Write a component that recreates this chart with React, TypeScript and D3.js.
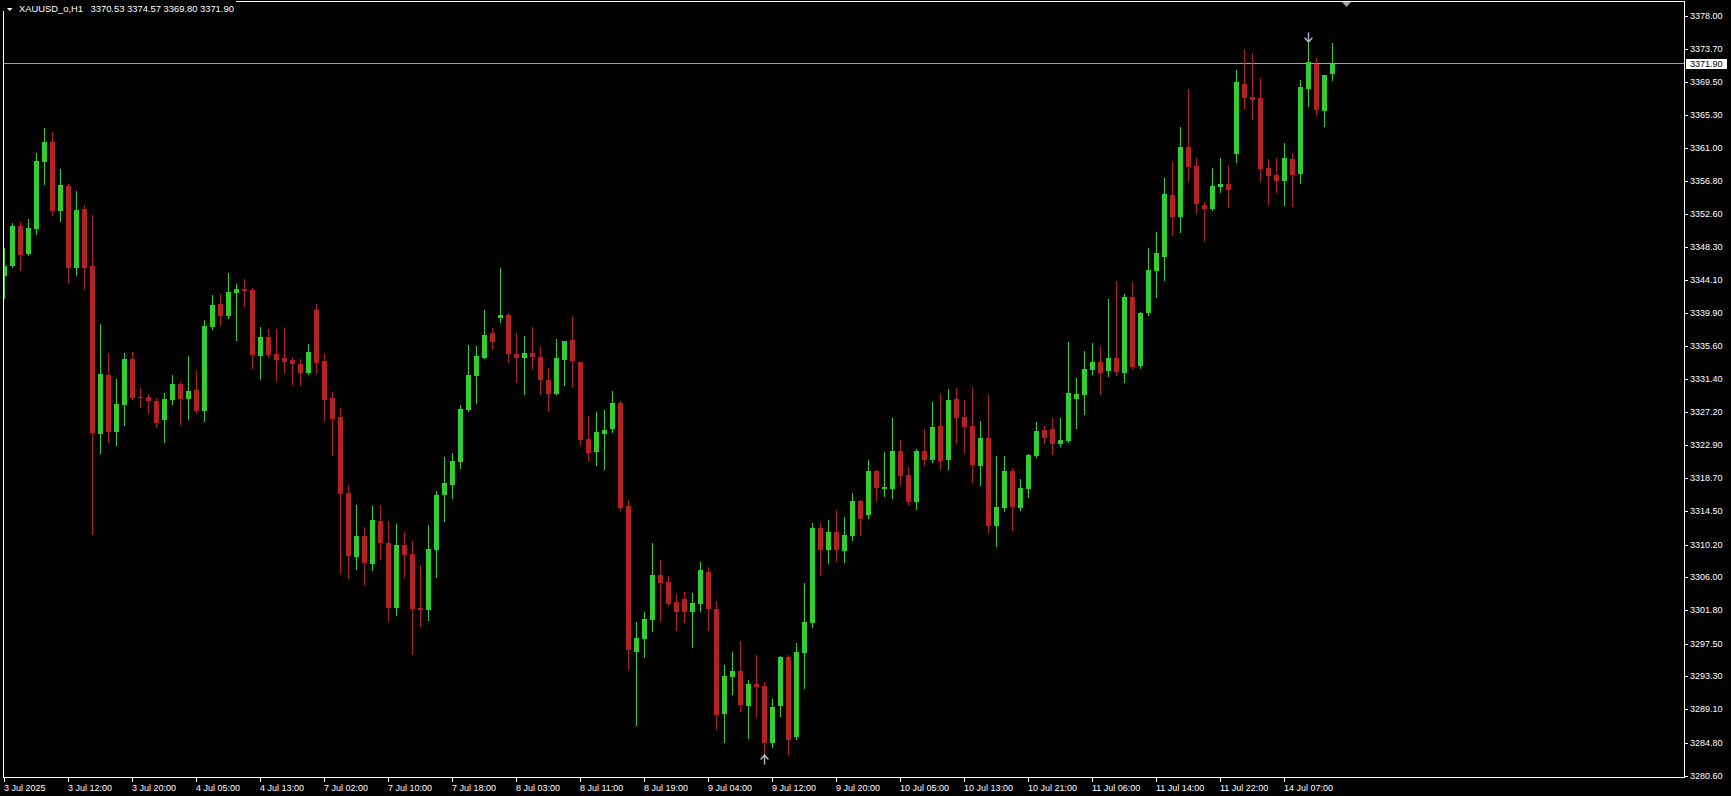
import React, { useEffect } from 'react';
import * as d3 from 'd3';

// ---------- DATA ----------
const symbolTitle = 'XAUUSD_o,H1';
const headerOHLC = ['3370.53', '3374.57', '3369.80', '3371.90'];

const opens = [
  3344.72, 3346.00, 3351.08, 3347.54, 3350.74, 3359.33, 3361.85, 3353.05, 3356.21, 3345.74,
  3353.26, 3345.96, 3324.47, 3331.99, 3324.73, 3328.19, 3334.04, 3329.21, 3329.17, 3328.65,
  3326.26, 3328.83, 3330.83, 3328.95, 3330.07, 3327.42, 3338.18, 3341.09, 3339.59, 3342.54,
  3343.01, 3342.88, 3334.47, 3336.86, 3334.68, 3334.17, 3333.91, 3333.40, 3332.29, 3340.32,
  3333.78, 3329.04, 3326.61, 3316.87, 3308.71, 3311.36, 3307.81, 3313.28, 3310.46, 3302.17,
  3310.20, 3309.05, 3302.13, 3301.92, 3309.61, 3316.65, 3317.94, 3320.88, 3327.55, 3331.91,
  3334.21, 3337.37, 3339.34, 3339.68, 3334.68, 3334.21, 3334.81, 3334.30, 3331.35, 3329.60,
  3333.96, 3336.48, 3333.66, 3323.79, 3322.16, 3324.47, 3325.11, 3328.40, 3315.20, 3296.53,
  3298.20, 3300.63, 3306.36, 3305.46, 3302.90, 3303.28, 3301.66, 3302.68, 3306.74, 3302.00,
  3288.59, 3293.33, 3294.05, 3289.61, 3292.39, 3292.13, 3284.87, 3289.61, 3295.85, 3285.64,
  3296.40, 3300.25, 3312.38, 3309.60, 3311.87, 3309.48, 3311.40, 3315.84, 3314.09, 3319.69,
  3317.42, 3317.43, 3322.25, 3319.18, 3315.76, 3322.25, 3321.14, 3325.46, 3321.14, 3328.92,
  3326.61, 3325.46, 3320.37, 3323.92, 3312.69, 3314.99, 3319.69, 3314.99, 3317.43, 3321.66,
  3324.95, 3325.07, 3323.19, 3323.58, 3328.96, 3329.47, 3332.68, 3333.66, 3332.55, 3334.17,
  3332.29, 3341.99, 3333.19, 3339.98, 3345.36, 3347.16, 3355.06, 3352.28, 3361.21, 3358.78,
  3353.78, 3353.31, 3356.13, 3356.47, 3360.36, 3369.29, 3367.62, 3367.49, 3358.52, 3357.62,
  3356.90, 3359.67, 3357.79, 3368.69, 3371.85, 3365.87, 3370.53,
];
const highs = [
  3348.22, 3351.43, 3351.55, 3351.98, 3360.44, 3363.64, 3363.13, 3358.35, 3356.47, 3355.57,
  3353.78, 3352.45, 3338.52, 3334.81, 3331.48, 3334.81, 3334.94, 3330.32, 3329.55, 3329.04,
  3329.68, 3331.99, 3331.09, 3334.42, 3332.50, 3339.04, 3342.24, 3342.37, 3345.06, 3343.65,
  3344.29, 3343.14, 3338.14, 3337.88, 3337.88, 3338.01, 3334.29, 3334.04, 3335.96, 3341.09,
  3334.68, 3329.81, 3327.76, 3317.89, 3315.33, 3312.51, 3315.20, 3315.33, 3313.28, 3312.89,
  3311.87, 3310.72, 3307.64, 3312.77, 3317.12, 3321.48, 3321.99, 3328.15, 3335.84, 3335.71,
  3340.32, 3338.01, 3345.70, 3339.94, 3337.37, 3336.99, 3338.14, 3335.58, 3332.89, 3336.60,
  3336.35, 3339.55, 3333.66, 3326.74, 3327.25, 3327.50, 3329.94, 3328.66, 3315.97, 3300.33,
  3301.62, 3310.46, 3308.28, 3306.23, 3303.92, 3304.18, 3304.05, 3308.02, 3307.38, 3303.03,
  3294.82, 3296.49, 3297.90, 3292.90, 3296.10, 3292.64, 3290.47, 3295.98, 3296.10, 3297.64,
  3305.33, 3313.02, 3313.02, 3313.41, 3314.69, 3313.79, 3316.87, 3315.97, 3321.10, 3319.86,
  3322.12, 3326.48, 3323.66, 3320.20, 3322.51, 3325.07, 3328.53, 3329.56, 3330.20, 3330.33,
  3328.79, 3330.46, 3326.10, 3329.43, 3321.61, 3321.61, 3320.08, 3318.67, 3321.87, 3325.97,
  3325.46, 3326.48, 3326.48, 3336.22, 3331.61, 3335.07, 3336.10, 3335.58, 3341.73, 3344.04,
  3342.38, 3343.91, 3340.06, 3348.27, 3350.32, 3357.24, 3359.29, 3363.77, 3368.64, 3359.80,
  3354.16, 3358.52, 3359.80, 3358.90, 3371.08, 3373.77, 3373.26, 3370.05, 3359.67, 3359.80,
  3361.72, 3360.44, 3369.80, 3374.92, 3372.62, 3370.44, 3374.57,
];
const lows = [
  3341.90, 3345.79, 3345.49, 3347.37, 3350.10, 3356.51, 3352.54, 3351.77, 3343.82, 3344.85,
  3343.05, 3311.65, 3322.03, 3323.44, 3323.06, 3325.62, 3328.91, 3327.93, 3327.16, 3325.37,
  3323.44, 3328.31, 3325.75, 3326.39, 3327.16, 3326.14, 3337.93, 3338.44, 3339.34, 3336.52,
  3340.87, 3332.93, 3331.52, 3334.34, 3331.39, 3332.29, 3330.88, 3330.75, 3332.16, 3332.29,
  3326.26, 3321.78, 3306.66, 3306.02, 3307.17, 3305.25, 3307.04, 3308.45, 3300.63, 3301.27,
  3306.14, 3296.28, 3299.87, 3300.63, 3306.14, 3313.32, 3316.27, 3320.11, 3327.42, 3328.44,
  3334.21, 3335.37, 3338.83, 3333.70, 3331.14, 3329.60, 3332.80, 3329.60, 3327.42, 3329.60,
  3330.75, 3330.50, 3323.19, 3321.14, 3320.50, 3319.99, 3324.73, 3314.73, 3294.35, 3287.18,
  3295.89, 3299.22, 3300.63, 3302.56, 3299.35, 3300.38, 3297.17, 3301.79, 3299.35, 3286.66,
  3285.00, 3291.15, 3288.97, 3285.51, 3288.33, 3283.16, 3284.36, 3288.33, 3283.33, 3285.38,
  3291.92, 3299.74, 3306.40, 3307.94, 3308.19, 3308.07, 3310.89, 3311.53, 3313.71, 3316.01,
  3316.53, 3316.27, 3318.07, 3315.38, 3314.86, 3320.50, 3320.89, 3319.99, 3319.99, 3323.32,
  3322.17, 3318.32, 3317.94, 3311.92, 3310.12, 3314.61, 3312.17, 3314.74, 3316.40, 3321.53,
  3323.32, 3321.91, 3322.94, 3323.45, 3325.24, 3327.04, 3332.17, 3329.60, 3331.91, 3332.04,
  3331.14, 3332.81, 3332.93, 3339.72, 3342.03, 3344.21, 3349.98, 3350.36, 3356.90, 3352.80,
  3349.21, 3353.18, 3355.49, 3353.56, 3359.33, 3366.25, 3364.84, 3356.90, 3353.95, 3355.49,
  3353.82, 3353.69, 3356.64, 3366.51, 3365.35, 3363.94, 3369.80,
];
const closes = [
  3345.96, 3351.08, 3347.41, 3350.83, 3359.41, 3361.85, 3353.05, 3356.34, 3345.74, 3353.13,
  3345.74, 3324.60, 3332.12, 3324.73, 3328.27, 3334.04, 3329.04, 3329.08, 3328.70, 3325.88,
  3328.91, 3330.83, 3328.95, 3329.94, 3327.42, 3338.27, 3340.96, 3339.59, 3342.63, 3343.01,
  3342.80, 3334.59, 3336.86, 3334.51, 3333.95, 3333.70, 3333.44, 3332.29, 3334.94, 3333.57,
  3328.83, 3326.39, 3316.78, 3308.84, 3311.36, 3307.94, 3313.41, 3310.50, 3302.17, 3310.20,
  3308.96, 3302.04, 3301.92, 3309.69, 3316.61, 3318.15, 3320.97, 3327.63, 3331.99, 3334.43,
  3337.12, 3336.26, 3339.68, 3334.72, 3334.21, 3334.81, 3334.34, 3331.39, 3329.60, 3334.17,
  3336.35, 3333.83, 3323.70, 3322.04, 3324.69, 3324.94, 3328.40, 3314.99, 3296.79, 3298.28,
  3300.72, 3306.36, 3305.38, 3302.68, 3301.66, 3301.66, 3302.77, 3307.00, 3302.04, 3288.46,
  3293.41, 3294.05, 3289.74, 3292.39, 3292.05, 3284.87, 3289.44, 3295.85, 3285.25, 3296.49,
  3300.33, 3312.38, 3309.60, 3311.87, 3309.60, 3311.48, 3315.84, 3313.58, 3319.69, 3317.55,
  3317.64, 3322.25, 3319.09, 3315.76, 3322.25, 3321.14, 3325.33, 3321.02, 3328.79, 3326.53,
  3325.37, 3320.50, 3323.92, 3312.69, 3315.08, 3319.69, 3315.12, 3317.51, 3321.74, 3324.82,
  3323.96, 3323.19, 3323.66, 3329.69, 3329.56, 3332.76, 3333.66, 3332.29, 3334.17, 3332.42,
  3341.99, 3333.06, 3339.94, 3345.45, 3347.63, 3355.19, 3352.28, 3361.21, 3358.69, 3353.95,
  3353.31, 3356.21, 3356.47, 3355.74, 3369.54, 3367.53, 3367.28, 3358.43, 3357.54, 3356.90,
  3359.80, 3357.67, 3368.90, 3372.10, 3366.00, 3370.44, 3371.90,
];

const timeLabels = [
  '3 Jul 2025', '3 Jul 12:00', '3 Jul 20:00', '4 Jul 05:00', '4 Jul 13:00', '7 Jul 02:00',
  '7 Jul 10:00', '7 Jul 18:00', '8 Jul 03:00', '8 Jul 11:00', '8 Jul 19:00', '9 Jul 04:00',
  '9 Jul 12:00', '9 Jul 20:00', '10 Jul 05:00', '10 Jul 13:00', '10 Jul 21:00', '11 Jul 06:00',
  '11 Jul 14:00', '11 Jul 22:00', '14 Jul 07:00',
];
const barsPerTimeLabel = 8;

const priceTicks = [
  3378.0, 3373.7, 3369.5, 3365.3, 3361.0, 3356.8, 3352.6, 3348.3, 3344.1, 3339.9, 3335.6, 3331.4,
  3327.2, 3322.9, 3318.7, 3314.5, 3310.2, 3306.0, 3301.8, 3297.5, 3293.3, 3289.1, 3284.8, 3280.6,
];
const priceDomain = [3280.6, 3378.0];
const currentPrice = 3371.9;
const sellArrowBar = 163;
const buyArrowBar = 95;

// ---------- LAYOUT ----------
const W = 1731;
const H = 796;
const plotLeft = 3;
const plotRight = 1684;
const plotTop = 1;
const plotBottom = 777;
const FONT = "'Liberation Sans', Arial, sans-serif";
const BULL = '#32CD32';
const BEAR = '#B22222';
const LINE = '#9aa3ad';

export default function App() {
  useEffect(() => {
    document.body.style.margin = '0';
    document.body.style.background = '#000';
  }, []);

  const x = d3.scaleLinear().domain([0, 1]).range([4, 12]);
  const y = d3.scaleLinear().domain(priceDomain).range([776, 16]);
  const py = (p: number) => Math.round(y(p));

  const candles = d3.range(opens.length).map((i) => ({
    i,
    o: opens[i],
    h: highs[i],
    l: lows[i],
    c: closes[i],
  }));

  const fmt = d3.format('.2f');
  const curY = Math.floor(y(currentPrice));

  const downBar = candles[sellArrowBar];
  const upBar = candles[buyArrowBar];
  const dx = x(sellArrowBar) + 0.5;
  const dTip = py(downBar.h) + 2;
  const ux = x(buyArrowBar) + 0.5;
  const uTip = py(upBar.l) - 1;

  return (
    <svg
      width={W}
      height={H}
      style={{ position: 'absolute', left: 0, top: 0, background: '#000', display: 'block' }}
      fontFamily={FONT}
    >
      <defs>
        <clipPath id="plotClip">
          <rect x={plotLeft + 1} y={plotTop + 1} width={plotRight - plotLeft - 1} height={plotBottom - plotTop - 1} />
        </clipPath>
      </defs>
      <rect x={0} y={0} width={W} height={H} fill="#000" />

      {/* current price line */}
      <rect x={plotLeft + 1} y={curY} width={plotRight - plotLeft - 1} height={1} fill={LINE} />

      {/* candles */}
      <g clipPath="url(#plotClip)" shapeRendering="crispEdges">
        {candles.map((d) => {
          const bull = d.c >= d.o;
          const col = bull ? BULL : BEAR;
          const cx = x(d.i);
          const top = py(Math.max(d.o, d.c));
          const bot = py(Math.min(d.o, d.c));
          const hy = py(d.h);
          const ly = py(d.l);
          return (
            <g key={d.i}>
              <rect x={cx} y={hy} width={1} height={Math.max(1, ly - hy + 1)} fill={col} />
              <rect x={cx - 2} y={top} width={5} height={Math.max(1, bot - top)} fill={col} />
            </g>
          );
        })}
      </g>

      {/* trade arrows */}
      <g fill="none" stroke="#b4bccb" strokeWidth={1.4} strokeLinecap="round" strokeLinejoin="round">
        <path d={`M${dx},${dTip - 9} L${dx},${dTip} M${dx - 3.5},${dTip - 4} L${dx},${dTip} L${dx + 3.5},${dTip - 4}`} />
        <path d={`M${ux},${uTip + 9} L${ux},${uTip} M${ux - 3.5},${uTip + 4} L${ux},${uTip} L${ux + 3.5},${uTip + 4}`} />
      </g>

      {/* frame */}
      <g shapeRendering="crispEdges" fill="#fff">
        <rect x={plotLeft} y={plotTop} width={1} height={plotBottom - plotTop + 1} />
        <rect x={plotLeft} y={plotTop} width={plotRight - plotLeft + 1} height={1} />
        <rect x={plotRight} y={plotTop} width={1} height={plotBottom - plotTop + 1} />
        <rect x={plotLeft} y={plotBottom} width={plotRight - plotLeft + 1} height={1} />
      </g>

      {/* shift marker */}
      <path d="M1342,2 L1351,2 L1346.5,7 Z" fill="#9aa3ad" />

      {/* title */}
      <rect x={0} y={0} width={236} height={11} fill="#000" />
      <path d="M7,8 L12.5,8 L9.75,11 Z" fill="#fff" />
      <text x={19} y={12} fill="#fff" fontSize={9.4}>
        {symbolTitle}
      </text>
      <text x={90.5} y={12} fill="#fff" fontSize={9.4} style={{ whiteSpace: 'pre' }}>
        {headerOHLC.join(' ')}
      </text>

      {/* price axis */}
      <g>
        {priceTicks.map((p) => {
          const ty = Math.floor(y(p));
          return (
            <g key={p}>
              <rect x={plotRight} y={ty} width={4} height={1} fill="#fff" shapeRendering="crispEdges" />
              <text x={1690} y={ty} dy="0.35em" fill="#fff" fontSize={9}>
                {fmt(p)}
              </text>
            </g>
          );
        })}
        <rect x={1686} y={curY - 4} width={41} height={10} fill="#fff" shapeRendering="crispEdges" />
        <text x={1690} y={curY + 1} dy="0.35em" fill="#000" fontSize={9}>
          {fmt(currentPrice)}
        </text>
      </g>

      {/* time axis */}
      <g>
        {timeLabels.map((lbl, k) => {
          const tx = x(k * barsPerTimeLabel);
          return (
            <g key={lbl}>
              <rect x={tx} y={plotBottom + 1} width={1} height={4} fill="#fff" shapeRendering="crispEdges" />
              <text x={tx} y={791} fill="#fff" fontSize={9}>
                {lbl}
              </text>
            </g>
          );
        })}
      </g>
    </svg>
  );
}
